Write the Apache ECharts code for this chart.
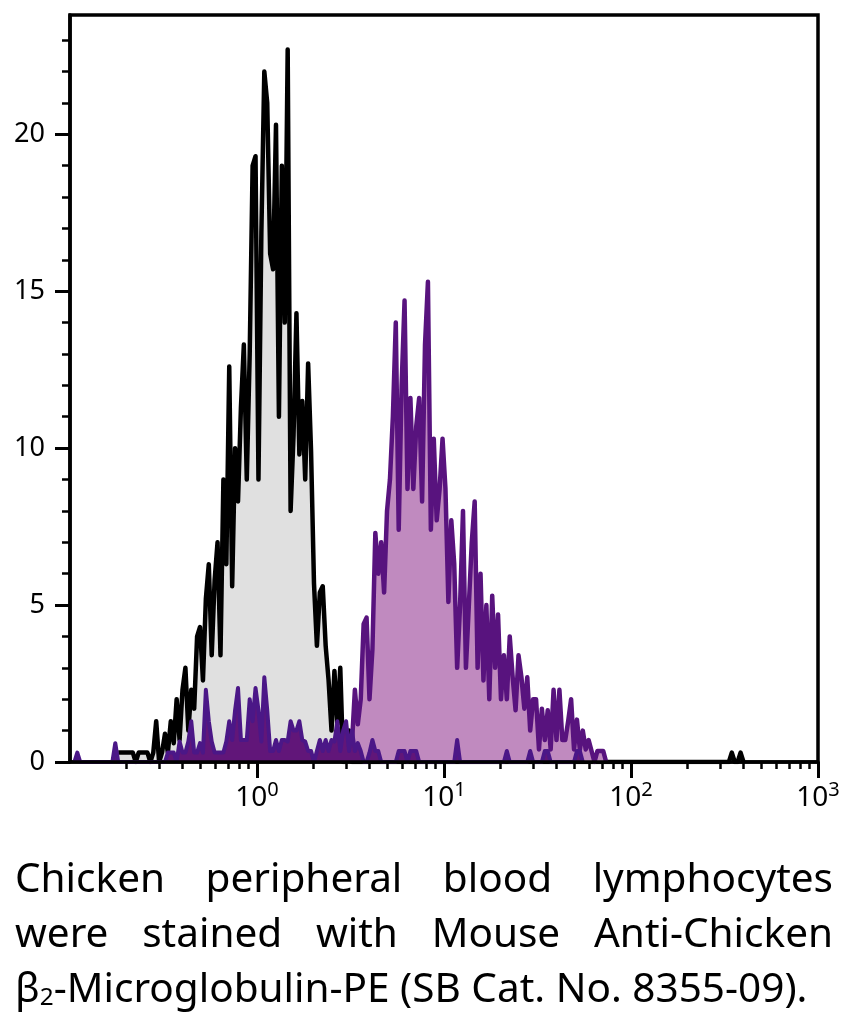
<!DOCTYPE html>
<html>
<head>
<meta charset="utf-8">
<script src="https://cdn.jsdelivr.net/npm/echarts@6/dist/echarts.min.js"></script>
<style>
  html, body { margin: 0; padding: 0; background: #fff; }
  #chart { width: 848px; height: 1018px; }
</style>
</head>
<body>
<div id="chart"></div>
<script>
const FONT = '"Liberation Sans Narrow", "Arial Narrow", "Noto Sans", sans-serif';

// histogram channels: 64 per decade starting at 10^-1
const binsPerDecade = 64;
const logStart = -1;

// unstained control (black outline, grey fill)
const controlStart = 16;
const controlValues = [
  0.3, 0.3, 0.3, 0.3, 0.3, 0.3, 0, 0.3, 0.3, 0.3, 0.3, 0, 0.3,
  1.3, 0, 0.3, 0.9, 0.3, 1.3, 0.6, 2.0, 0.7, 2.3, 3.0, 1.0, 2.3, 1.7, 4.0, 4.3,
  2.6, 5.2, 6.3, 3.4, 5.8, 7.0, 3.4, 9.0, 6.3, 12.6, 5.6, 10.0, 8.3, 11.3, 13.3,
  9.0, 13.0, 19.0, 19.3, 9.0, 16.9, 22.0, 21.0, 16.2, 15.7, 20.3, 11.0, 19.0,
  14.0, 22.7, 8.0, 10.4, 14.3, 9.8, 11.5, 9.0, 12.7, 9.9, 5.7, 3.7, 5.4, 5.6,
  3.7, 2.6, 1.0, 2.9, 1.2, 3.0, 0, 0, 1.0, 0
];
const controlFarStart = 225;
const controlFarValues = [0, 0.3, 0, 0, 0.3, 0];

// stained sample (purple outline, mauve fill)
const stainedStart = 95;
const stainedValues = [
  0, 0.6, 2.3, 1.2, 2.0, 4.4, 4.6, 2.0, 3.6, 7.3, 6.0, 7.0, 5.4, 8.0, 9.0,
  11.0, 14.0, 7.4, 12.0, 14.7, 8.7, 11.6, 8.7, 10.7, 11.6, 8.3, 13.3, 15.3,
  7.4, 10.3, 7.7, 8.7, 10.3, 8.7, 5.1, 7.7, 6.3, 3.0, 5.0, 8.0, 3.0, 5.0, 7.0,
  8.3, 3.0, 6.0, 2.6, 5.0, 2.0, 5.3, 3.0, 4.7, 2.0, 3.4, 2.0, 4.0, 2.7, 1.65,
  3.4, 2.7, 1.7, 2.7, 1.0, 2.0, 2.0, 0.4, 1.7, 0.7, 1.65, 0.4, 2.3, 0.7, 2.3,
  0.7, 0.7, 1.3, 2.0, 0.4, 1.35, 0.4, 1.0, 0.4, 0.7, 0.35, 0, 0.35, 0.35, 0.35, 0
];

// low-count background events (dark purple)
const bgStarts = [1, 14, 32, 111, 131, 148, 156, 161, 172];
const bgValues = [
  [0, 0.3, 0],
  [0, 0.6, 0],
  [0, 0.3, 0.3, 0.3, 0, 0.65, 0.3, 0.3, 0.65, 1.3, 0.3, 0.3, 0.6, 0.3, 2.3, 1.3,
   0.65, 0.3, 0.3, 0.3, 0.3, 0.65, 1.3, 0.7, 1.65, 2.36, 0.7, 0.7, 0.7, 2.0, 1.3,
   2.36, 1.65, 0.65, 2.7, 1.65, 0.35, 0.35, 0.7, 0.35, 0.7, 0.7, 0.65, 1.3, 1.0,
   1.0, 1.3, 0.7, 0.65, 0.35, 0.35, 0, 0.35, 0.7, 0.35, 0.7, 0.35, 0.7, 0.65, 1.3,
   0.35, 1.0, 1.3, 0.35, 1.0, 0.35, 0.6, 0.35, 0, 0, 0.3, 0.7, 0.35, 0.35, 0],
  [0, 0.35, 0.35, 0.35, 0, 0.35, 0.35, 0.35, 0],
  [0, 0.7, 0],
  [0, 0.35, 0],
  [0, 0.35, 0],
  [0, 0.35, 0.35, 0],
  [0, 0.35, 0.35, 0]
];

// axes
const xMajorTicks = [1, 10, 100, 1000];
const xMinorTicks = [0.2, 0.3, 0.4, 0.5, 0.6, 0.7, 0.8, 0.9,
  2, 3, 4, 5, 6, 7, 8, 9, 20, 30, 40, 50, 60, 70, 80, 90,
  200, 300, 400, 500, 600, 700, 800, 900];
const yMajorTicks = [0, 5, 10, 15, 20];
const yMinorTicks = [1, 2, 3, 4, 6, 7, 8, 9, 11, 12, 13, 14, 16, 17, 18, 19, 21, 22, 23];

const captionLines = [
  ['Chicken', 'peripheral', 'blood', 'lymphocytes'],
  ['were', 'stained', 'with', 'Mouse', 'Anti-Chicken']
];
const captionLast = ['β', '2', '-Microglobulin-PE (SB Cat. No. 8355-09).'];

function toPoints(start, values) {
  return values.map((v, i) => [Math.pow(10, logStart + (start + i + 0.5) / binsPerDecade), v]);
}

const controlData = toPoints(controlStart, controlValues)
  .concat(toPoints(controlFarStart, controlFarValues));
const stainedData = toPoints(stainedStart, stainedValues);
let bgData = [];
bgStarts.forEach((s, k) => { bgData = bgData.concat(toPoints(s, bgValues[k])); });

// caption layout (justified like the original figure legend)
const ctx = document.createElement('canvas').getContext('2d');
function textW(t, size) {
  ctx.font = size + 'px ' + FONT;
  return ctx.measureText(t).width;
}
const capLeft = 15, capRight = 833;
const subScale = 0.6;
const w100 = textW(captionLast[0], 100) + textW(captionLast[1], 100 * subScale) + textW(captionLast[2], 100);
const capSize = Math.round(793 / w100 * 100 * 10) / 10;
const capCenters = [880, 935, 990];

const graphics = [];
captionLines.forEach((words, li) => {
  const widths = words.map(w => textW(w, capSize));
  const total = widths.reduce((a, b) => a + b, 0);
  const gap = (capRight - capLeft - total) / (words.length - 1);
  let x = capLeft;
  words.forEach((w, k) => {
    graphics.push({
      type: 'text', x: x, y: capCenters[li],
      style: { text: w, font: capSize + 'px ' + FONT, fill: '#000', verticalAlign: 'middle' }
    });
    x += widths[k] + gap;
  });
});
graphics.push({
  type: 'text', x: capLeft, y: capCenters[2],
  style: {
    text: '{a|' + captionLast[0] + '}{s|' + captionLast[1] + '}{a|' + captionLast[2] + '}',
    verticalAlign: 'middle',
    rich: {
      a: { fontSize: capSize, fontFamily: FONT, fill: '#000', lineHeight: capSize },
      s: { fontSize: capSize * subScale, fontFamily: FONT, fill: '#000', verticalAlign: 'bottom', lineHeight: capSize * subScale }
    }
  }
});

const chart = echarts.init(document.getElementById('chart'));
chart.setOption({
  animation: false,
  grid: {
    left: 70, right: 30, top: 15, bottom: 256,
    show: true, borderColor: '#000', borderWidth: 3.5, backgroundColor: 'transparent'
  },
  xAxis: [{
    type: 'log', logBase: 10, min: 0.1, max: 1000, z: 10,
    axisLine: { lineStyle: { color: '#000', width: 3.5 } },
    axisTick: { customValues: xMajorTicks, length: 16, lineStyle: { color: '#000', width: 3 } },
    axisLabel: {
      customValues: xMajorTicks, margin: 18,
      formatter: v => '{b|10}{s|' + Math.round(Math.log10(v)) + '}',
      rich: {
        b: { fontSize: 28, fontFamily: FONT, color: '#000', padding: [8, 0, 0, 0], lineHeight: 28 },
        s: { fontSize: 20, fontFamily: FONT, color: '#000', verticalAlign: 'top', lineHeight: 20 }
      }
    },
    splitLine: { show: false }
  }, {
    type: 'log', logBase: 10, min: 0.1, max: 1000, position: 'bottom', z: 10,
    axisLine: { show: false },
    axisTick: { customValues: xMinorTicks, length: 7, lineStyle: { color: '#000', width: 2.5 } },
    axisLabel: { show: false },
    splitLine: { show: false }
  }],
  yAxis: [{
    type: 'value', min: 0, max: 23.8, z: 10,
    axisLine: { show: true, lineStyle: { color: '#000', width: 3.5 } },
    axisTick: { show: true, customValues: yMajorTicks, length: 15, lineStyle: { color: '#000', width: 3 } },
    axisLabel: { customValues: yMajorTicks, margin: 25, fontSize: 27, fontFamily: FONT, color: '#000' },
    splitLine: { show: false }
  }, {
    type: 'value', min: 0, max: 23.8, position: 'left', z: 10,
    axisLine: { show: false },
    axisTick: { show: true, customValues: yMinorTicks, length: 8, lineStyle: { color: '#000', width: 2.5 } },
    axisLabel: { show: false },
    splitLine: { show: false }
  }],
  series: [{
    name: 'Control', type: 'line', data: controlData, showSymbol: false, z: 2,
    lineStyle: { color: '#000', width: 4.5, join: 'round' },
    areaStyle: { color: '#e0e0e0', opacity: 1 }
  }, {
    name: 'β2-Microglobulin-PE', type: 'line', data: stainedData, showSymbol: false, z: 3,
    lineStyle: { color: '#58137e', width: 4.5, join: 'round' },
    areaStyle: { color: '#c08abf', opacity: 1 }
  }, {
    name: 'Background', type: 'line', data: bgData, showSymbol: false, z: 4,
    lineStyle: { color: '#4b1787', width: 4, join: 'round' },
    areaStyle: { color: '#611679', opacity: 1 }
  }],
  graphic: graphics
});
</script>
</body>
</html>
